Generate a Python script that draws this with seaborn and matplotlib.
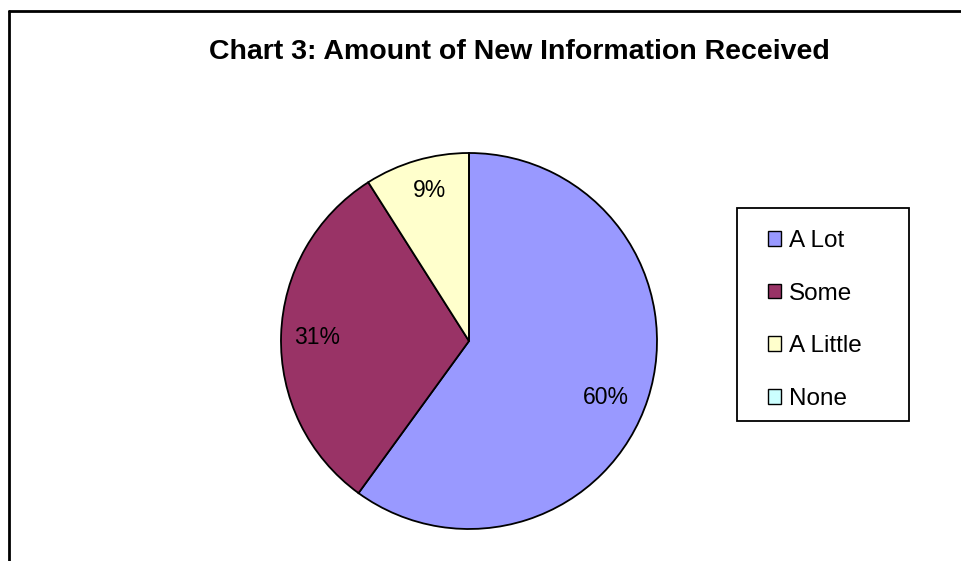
import matplotlib
matplotlib.use("Agg")
import matplotlib.pyplot as plt
import seaborn as sns
from matplotlib.patches import Patch, Rectangle
from matplotlib.lines import Line2D

categories = ["A Lot", "Some", "A Little", "None"]
values = [60, 31, 9, 0]
colors = ["#9999FF", "#993366", "#FFFFCC", "#CCFFFF"]
title = "Chart 3: Amount of New Information Received"

sns.set_theme(style="white")
plt.rcParams['font.family'] = ['Liberation Sans', 'DejaVu Sans']

W, H = 961, 561
fig = plt.figure(figsize=(W / 100, H / 100), dpi=100)
ax = fig.add_axes([0, 0, 1, 1])

# frame lines (top and left visible)
ax.add_line(Line2D([8.5, 8.5], [0, H - 10.5], color='black', lw=2))
ax.add_line(Line2D([8.5, W], [H - 10.5, H - 10.5], color='black', lw=2))

def fmt(p):
    return f"{p:.0f}%" if p > 0.5 else ""

wedges, texts, autotexts = ax.pie(
    values, colors=colors, startangle=90, counterclock=False,
    center=(469, H - 341), radius=188, autopct=fmt, pctdistance=0.8,
    wedgeprops=dict(edgecolor='black', linewidth=1.3),
    textprops=dict(fontsize=16.5, color='black'), frame=True)
ax.set_xlim(0, W)
ax.set_ylim(0, H)
ax.set_aspect('equal')
ax.axis('off')

# label placement like the original chart
label_pos = [(606, H - 397), (317, H - 338), (430, H - 190)]
for t, p in zip(autotexts, label_pos):
    t.set_position(p)

ax.text(519, H - 52, title, ha='center', va='center', fontsize=20.5,
        fontweight='bold', color='black')

# legend box
ax.add_patch(Rectangle((737, H - 421), 172, 213, facecolor='white',
                       edgecolor='black', linewidth=1.3, zorder=4))
handles = [Patch(facecolor=c, edgecolor='black', linewidth=1) for c in colors]
leg = ax.legend(handles, categories, loc='upper left',
                bbox_to_anchor=(768 / W, 1 - 230 / H), fontsize=17.5,
                frameon=False,
                handlelength=0.55, handleheight=0.55, handletextpad=0.3,
                labelspacing=1.26, borderpad=0, borderaxespad=0)
leg.set_zorder(5)
for t in leg.get_texts():
    t.set_color('black')

fig.savefig("out.png", dpi=100)
